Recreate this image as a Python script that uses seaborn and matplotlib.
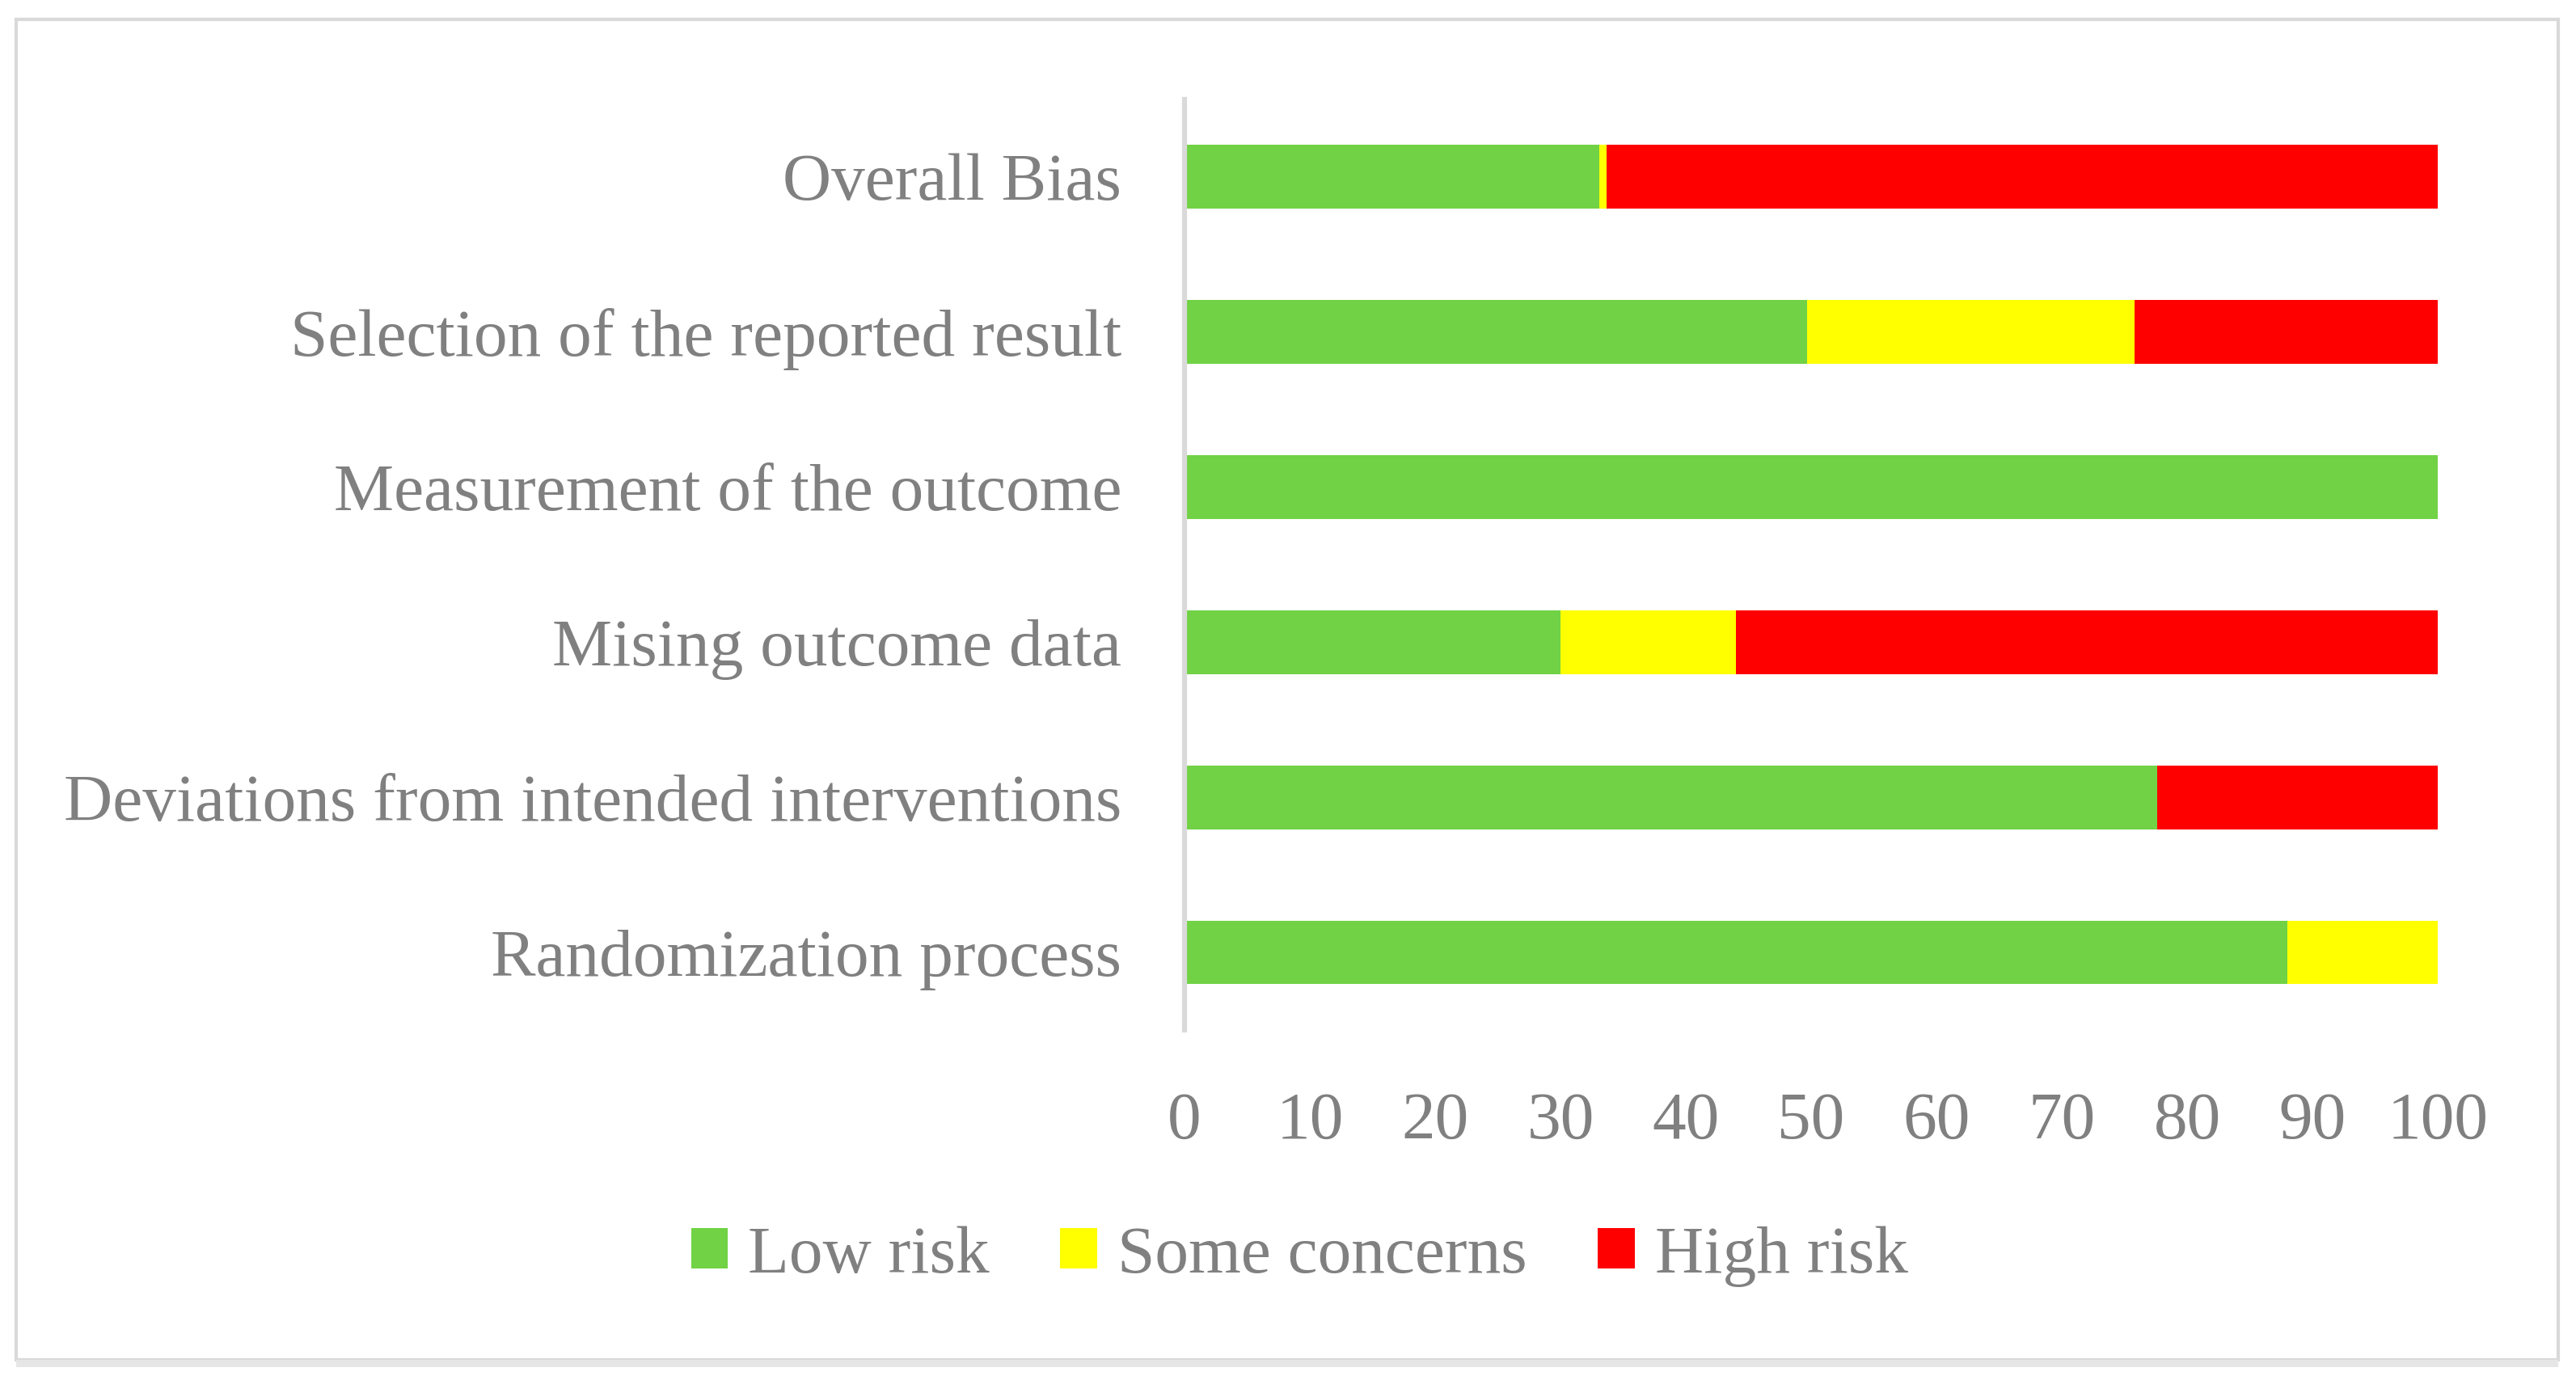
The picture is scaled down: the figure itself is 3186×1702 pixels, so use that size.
import matplotlib
matplotlib.use("Agg")
import matplotlib.pyplot as plt
import seaborn as sns
import pandas as pd
from matplotlib.patches import Rectangle

# Risk of bias data (percent of studies)
domains = [
    "Overall Bias",
    "Selection of the reported result",
    "Measurement of the outcome",
    "Mising outcome data",
    "Deviations from intended interventions",
    "Randomization process",
]
low_risk = [33.1, 49.7, 100.0, 30.0, 77.6, 88.0]
some_concerns = [0.6, 26.1, 0.0, 14.0, 0.0, 12.0]
high_risk = [66.3, 24.2, 0.0, 56.0, 22.4, 0.0]

series_names = ["Low risk", "Some concerns", "High risk"]
colors = {"Low risk": "#70D244", "Some concerns": "#FFFF00", "High risk": "#FF0000"}
text_grey = "#808080"

df = pd.DataFrame({"domain": domains, "Low risk": low_risk,
                   "Some concerns": some_concerns, "High risk": high_risk})
# cumulative ends for overlapping (stacked-look) bars
df["end_low"] = df["Low risk"]
df["end_some"] = df["end_low"] + df["Some concerns"]
df["end_high"] = df["end_some"] + df["High risk"]

sns.set_style("white")
plt.rcParams["font.family"] = ["Liberation Serif", "DejaVu Serif"]

fig = plt.figure(figsize=(31.86, 17.02), dpi=100)
ax = fig.add_axes([0.4598, 0.2514, 0.4866, 0.6766])

fs = 60
bar_h = 0.41
for col, name in [("end_high", "High risk"), ("end_some", "Some concerns"), ("end_low", "Low risk")]:
    sns.barplot(data=df, x=col, y="domain", order=domains, orient="h",
                color=colors[name], width=bar_h, linewidth=0, label=name,
                saturation=1, ax=ax)

handles, labels = ax.get_legend_handles_labels()
if ax.get_legend() is not None:
    ax.get_legend().remove()

ax.set_xlim(0, 100)
ax.set_ylim(len(domains) - 0.5, -0.5)
ax.set_xticks(range(0, 101, 10))
ax.set_xlabel("")
ax.set_ylabel("")
for s in ["top", "right", "bottom"]:
    ax.spines[s].set_visible(False)
ax.spines["left"].set_color("#D9D9D9")
ax.spines["left"].set_linewidth(4.5)
ax.tick_params(axis="both", length=0, labelsize=fs, labelcolor=text_grey)
ax.tick_params(axis="y", pad=56)
ax.tick_params(axis="x", pad=55)

lookup = dict(zip(labels, handles))
fig.legend([lookup[n] for n in series_names], series_names,
           loc="center", bbox_to_anchor=(0.5045, 0.087), ncol=3,
           frameon=False, fontsize=fs, labelcolor=text_grey,
           handlelength=0.55, handleheight=0.55, handletextpad=0.3,
           columnspacing=1.05)

# outer frame like the source figure
fig.patches.append(Rectangle((0.0064, 0.0115), 0.9866, 0.9742, transform=fig.transFigure,
                             fill=False, edgecolor="#D9D9D9", linewidth=3, zorder=0))
fig.patches.append(Rectangle((0.0064, 0.0065), 0.9866, 0.005, transform=fig.transFigure,
                             facecolor="#E6E6E6", edgecolor="none", zorder=0))

fig.savefig("out.png", dpi=100, facecolor="white")
plt.close(fig)
